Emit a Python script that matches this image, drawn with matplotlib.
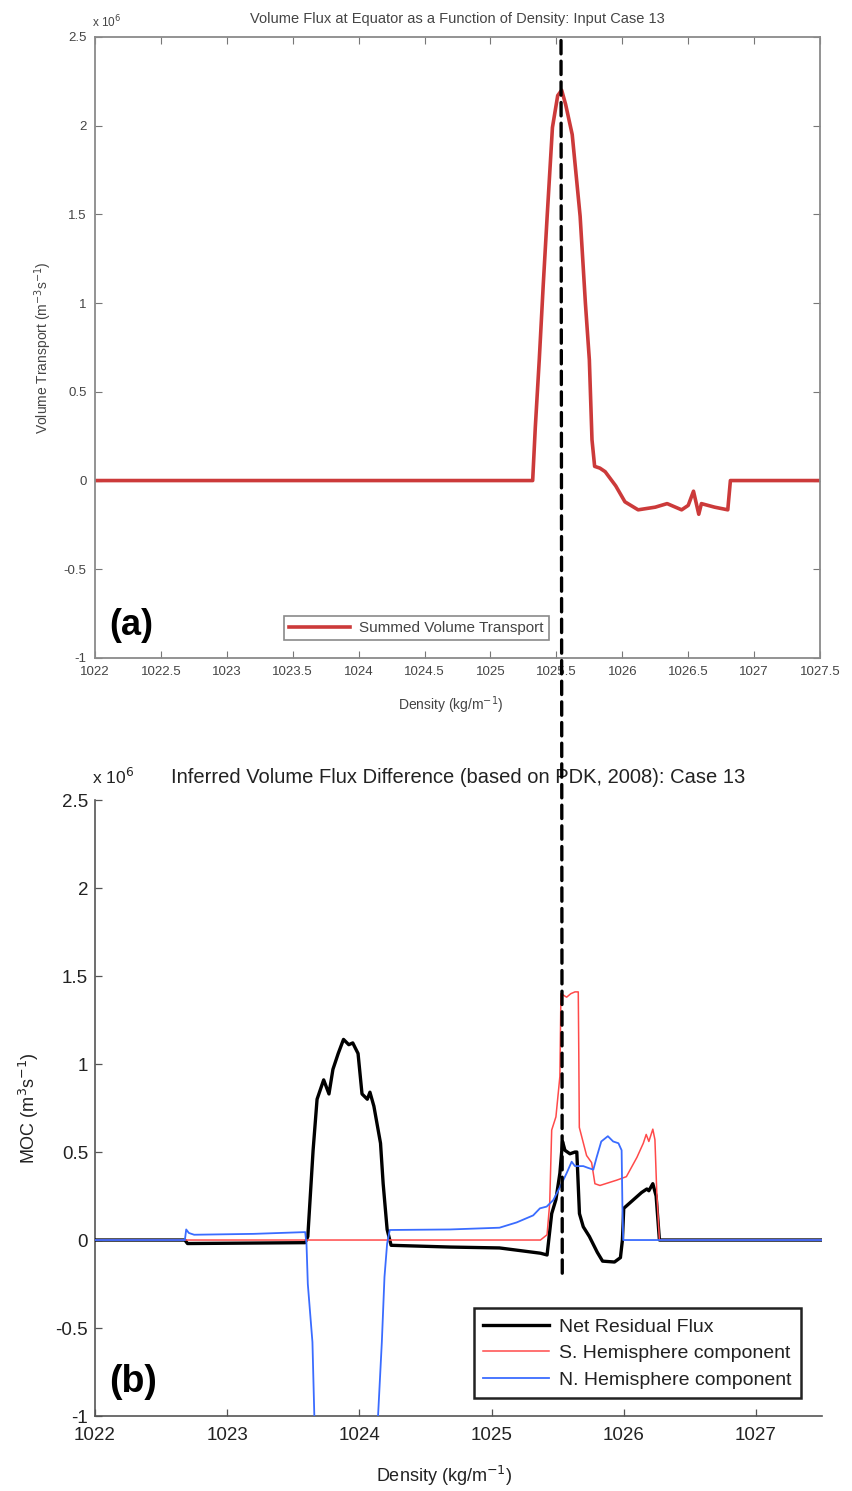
import matplotlib
matplotlib.use("Agg")
import matplotlib.pyplot as plt
from matplotlib.patches import ConnectionPatch

# ── Panel (a): summed volume transport at the equator ──────────────────────
rho_a = [1022.0, 1025.32, 1025.34, 1025.37, 1025.40, 1025.43, 1025.47, 1025.51,
         1025.54, 1025.57, 1025.62, 1025.68, 1025.72, 1025.75, 1025.77, 1025.79,
         1025.83, 1025.87, 1025.95, 1026.02, 1026.12, 1026.25, 1026.34, 1026.45,
         1026.50, 1026.54, 1026.58, 1026.60, 1026.70, 1026.80, 1026.82, 1027.5]
flux_a = [0.0, 0.0, 0.30, 0.68, 1.10, 1.49, 1.99, 2.17,
          2.20, 2.12, 1.95, 1.49, 1.00, 0.68, 0.23, 0.08,
          0.07, 0.05, -0.03, -0.12, -0.165, -0.15, -0.13, -0.165,
          -0.14, -0.06, -0.19, -0.13, -0.15, -0.165, 0.0, 0.0]

# ── Panel (b): inferred volume flux difference ─────────────────────────────
rho_net = [1022.0, 1022.68, 1022.70, 1023.59, 1023.61, 1023.65, 1023.68, 1023.73,
           1023.77, 1023.80, 1023.84, 1023.88, 1023.92, 1023.95, 1023.99, 1024.02,
           1024.06, 1024.08, 1024.11, 1024.16, 1024.18, 1024.21, 1024.24, 1024.69,
           1025.06, 1025.37, 1025.42, 1025.455, 1025.487, 1025.517, 1025.537, 1025.555,
           1025.593, 1025.631, 1025.645, 1025.665, 1025.694, 1025.74, 1025.80, 1025.84,
           1025.93, 1025.975, 1025.99, 1026.0, 1026.06, 1026.135, 1026.175, 1026.19,
           1026.22, 1026.245, 1026.27, 1027.5]
net = [0.0, 0.0, -0.02, -0.015, 0.02, 0.51, 0.80, 0.91,
       0.83, 0.97, 1.06, 1.14, 1.11, 1.12, 1.06, 0.83,
       0.80, 0.84, 0.76, 0.55, 0.32, 0.06, -0.03, -0.04,
       -0.045, -0.075, -0.085, 0.15, 0.23, 0.38, 0.56, 0.51,
       0.49, 0.50, 0.50, 0.15, 0.075, 0.02, -0.07, -0.12,
       -0.125, -0.10, 0.0, 0.18, 0.22, 0.27, 0.29, 0.28,
       0.32, 0.25, 0.0, 0.0]

rho_s = [1022.0, 1025.37, 1025.42, 1025.44, 1025.455, 1025.487, 1025.517, 1025.525,
         1025.568, 1025.60, 1025.631, 1025.656, 1025.66, 1025.664, 1025.719, 1025.757,
         1025.782, 1025.82, 1025.946, 1026.02, 1026.10, 1026.148, 1026.17, 1026.19,
         1026.22, 1026.236, 1026.25, 1026.27, 1027.5]
south = [0.0, 0.0, 0.03, 0.21, 0.625, 0.70, 0.93, 1.40,
         1.38, 1.40, 1.41, 1.41, 1.06, 0.64, 0.48, 0.44,
         0.32, 0.31, 0.34, 0.36, 0.47, 0.55, 0.60, 0.56,
         0.63, 0.57, 0.27, 0.0, 0.0]

rho_n = [1022.0, 1022.68, 1022.69, 1022.71, 1022.75, 1023.2, 1023.59, 1023.60,
         1023.61, 1023.645, 1023.66, 1023.9, 1024.14, 1024.17, 1024.19, 1024.21,
         1024.23, 1024.685, 1025.06, 1025.19, 1025.315, 1025.366, 1025.417, 1025.467,
         1025.517, 1025.568, 1025.606, 1025.631, 1025.694, 1025.73, 1025.77, 1025.795,
         1025.83, 1025.88, 1025.92, 1025.96, 1025.984, 1025.99, 1025.996, 1027.5]
north = [0.0, 0.0, 0.06, 0.04, 0.03, 0.035, 0.045, -0.02,
         -0.25, -0.58, -1.02, -1.6, -1.02, -0.58, -0.21, -0.02,
         0.057, 0.06, 0.07, 0.10, 0.14, 0.18, 0.19, 0.227,
         0.30, 0.38, 0.445, 0.42, 0.42, 0.41, 0.40, 0.47,
         0.56, 0.59, 0.56, 0.55, 0.51, 0.19, 0.0, 0.0]

marker_rho = 1025.535   # dashed reference line

xticks_a = [1022 + 0.5 * i for i in range(12)]
xticks_b = [1022, 1023, 1024, 1025, 1026, 1027]
yticks = [-1, -0.5, 0, 0.5, 1, 1.5, 2, 2.5]

# ── Styling ────────────────────────────────────────────────────────────────
WIDE = ["Liberation Sans", "DejaVu Sans"]
RED_A = "#cc3a3a"
RED_B = "#ff4a4a"
BLUE_B = "#3a6cff"
GREY = "#444444"
INK = "#222222"

plt.rcParams["font.family"] = WIDE


def _fmt(v):
    return f"{v:g}"


fig = plt.figure(figsize=(8.52, 14.91), dpi=100)

# Panel (a)
ax1 = fig.add_axes([0.1115, 0.5587, 0.851, 0.4165])
ax1.plot(rho_a, flux_a, color=RED_A, lw=2.6, solid_joinstyle="round",
         label="Summed Volume Transport")
ax1.set_xlim(1022, 1027.5)
ax1.set_ylim(-1, 2.5)
ax1.set_xticks(xticks_a)
ax1.set_xticklabels([_fmt(v) for v in xticks_a])
ax1.set_yticks(yticks)
ax1.set_yticklabels([_fmt(v) for v in yticks])
ax1.tick_params(direction="in", top=True, right=True, length=5, width=0.8,
                colors="#777777", labelcolor=GREY, labelsize=9.5, pad=6)
for sp in ax1.spines.values():
    sp.set_color("#8a8a8a")
    sp.set_linewidth(1.3)
ax1.set_xlabel("Density (kg/m$^{-1}$)", fontsize=10, color=GREY)
ax1.xaxis.set_label_coords(0.49, -0.058)
ax1.set_ylabel("Volume Transport (m$^{-3}$s$^{-1}$)", fontsize=10, color=GREY)
ax1.yaxis.set_label_coords(-0.056, 0.5)
ax1.text(0.5, 1.018, "Volume Flux at Equator as a Function of Density: Input Case 13",
         transform=ax1.transAxes, ha="center", va="bottom", fontsize=10.5, color=GREY)
fig.text(0.108, 0.985, "x 10$^6$", fontsize=8.5, color=GREY, ha="left", va="center")
ax1.text(0.02, 0.052, "(a)", transform=ax1.transAxes, fontsize=26,
         fontweight="bold", ha="left", va="center")
leg1 = ax1.legend(loc="lower right", bbox_to_anchor=(0.637, 0.016), fontsize=11,
                  fancybox=False, framealpha=1, borderpad=0.35, handlelength=4.0,
                  handletextpad=0.6, labelcolor=GREY)
leg1.get_frame().set_edgecolor("#8a8a8a")
leg1.get_frame().set_linewidth(1.2)

# Panel (b)
ax2 = fig.add_axes([0.1115, 0.0503, 0.8533, 0.4131])
ax2.plot(rho_net, net, color="black", lw=2.4, zorder=3, label="Net Residual Flux")
ax2.plot(rho_s, south, color=RED_B, lw=1.1, zorder=4, label="S. Hemisphere component")
ax2.plot(rho_n, north, color=BLUE_B, lw=1.3, zorder=5, label="N. Hemisphere component")
ax2.set_xlim(1022, 1027.5)
ax2.set_ylim(-1, 2.5)
ax2.set_xticks(xticks_b)
ax2.set_xticklabels([_fmt(v) for v in xticks_b])
ax2.set_yticks(yticks)
ax2.set_yticklabels([_fmt(v) for v in yticks])
ax2.tick_params(direction="in", length=5, width=0.9, colors="#555555",
                labelcolor=INK, labelsize=13.5)
ax2.tick_params(axis="x", pad=8)
ax2.tick_params(axis="y", pad=5)
ax2.spines["top"].set_visible(False)
ax2.spines["right"].set_visible(False)
for side in ("left", "bottom"):
    ax2.spines[side].set_color("#555555")
    ax2.spines[side].set_linewidth(1.2)
ax2.set_xlabel("Density (kg/m$^{-1}$)", fontsize=13, color=INK)
ax2.xaxis.set_label_coords(0.48, -0.078)
ax2.set_ylabel("MOC (m$^3$s$^{-1}$)", fontsize=13, color=INK)
ax2.yaxis.set_label_coords(-0.074, 0.5)
ax2.text(0.5, 1.022, "Inferred Volume Flux Difference (based on PDK, 2008): Case 13",
         transform=ax2.transAxes, ha="center", va="bottom", fontsize=14.5, color=INK)
fig.text(0.108, 0.479, "x 10$^6$", fontsize=12.5, color=INK, ha="left", va="center")
ax2.text(0.02, 0.055, "(b)", transform=ax2.transAxes, fontsize=27,
         fontweight="bold", ha="left", va="center")
leg2 = ax2.legend(loc="lower right", bbox_to_anchor=(0.985, 0.013),
                  fontsize=14, fancybox=False, framealpha=1,
                  borderpad=0.5, handlelength=3.4, handletextpad=0.5,
                  labelspacing=0.45, labelcolor=INK)
leg2.get_frame().set_edgecolor(INK)
leg2.get_frame().set_linewidth(1.8)

# Dashed reference line spanning both panels
con = ConnectionPatch(xyA=(marker_rho, 2.48), coordsA=ax1.transData,
                      xyB=(marker_rho, -0.216), coordsB=ax2.transData,
                      color="black", lw=2.4, linestyle=(0, (4, 2.2)), zorder=10)
fig.add_artist(con)

fig.savefig("out.png", dpi=100)
